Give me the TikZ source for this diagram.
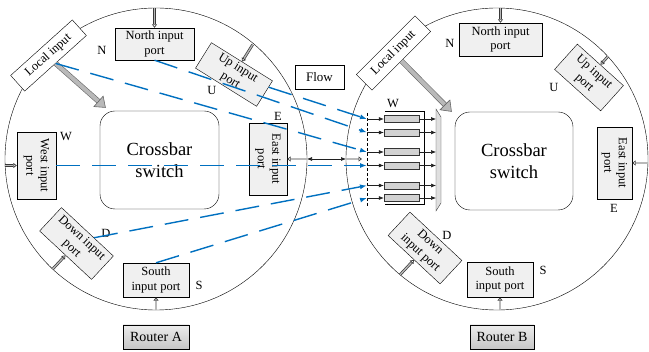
\documentclass[tikz,border=0pt]{standalone}
\usepackage{fontspec}
\setmainfont{Liberation Serif}
\usepackage{tikz}
\usetikzlibrary{arrows.meta,positioning,calc}
\pgfdeclarelayer{bg}
\pgfsetlayers{bg,main}
\definecolor{flowblue}{RGB}{0,112,192}
\tikzset{
  port/.style={draw, fill=gray!12, align=center, inner sep=1pt, font=\fontsize{12.5}{14.5}\selectfont},
  whitebox/.style={draw, fill=white, inner sep=1pt, font=\fontsize{12.5}{14.5}\selectfont},
  lbl/.style={inner sep=0pt, font=\fontsize{12.5}{14}\selectfont},
  xbar/.style={draw, rounded corners=15pt, minimum width=119pt, minimum height=98pt, align=center, font=\fontsize{18.5}{22}\selectfont},
  router/.style={draw, top color=gray!15, bottom color=gray!45, minimum width=66pt, minimum height=24pt, inner sep=0pt, font=\fontsize{14}{16}\selectfont},
  portin/.style={draw=gray!45!black, double=gray!55, double distance=1.3pt, line width=0.7pt, -{Triangle[open, length=3.5pt, width=5pt]}},
  feed/.style={draw=gray!80!black, double=gray!55, double distance=4pt, line width=0.6pt, -{Triangle[length=10pt, width=15pt, fill=gray!55]}},
  flowline/.style={flowblue, line width=1.4pt, dash pattern=on 24pt off 12pt, -{Latex[length=7pt, width=5pt]}},
  buf/.style={draw=gray!40!black, fill=gray!35, minimum width=35pt, minimum height=7pt, inner sep=0pt},
  link/.style={gray!25!black, line width=0.6pt, -{Latex[length=5pt, width=4pt]}},
}

\begin{document}
\begin{tikzpicture}[x=1pt, y=-1pt, line width=0.7pt]
    \useasboundingbox (0,0) rectangle (649,352);

    \begin{pgfonlayer}{bg}    % router outlines
        \node [draw, circle, minimum size=302pt, inner sep=0pt] (cA) at (156,159) {};
        \node [draw, circle, minimum size=302pt, inner sep=0pt] (cB) at (497,159) {};
    \end{pgfonlayer}

    % Router A
    \node [xbar] (xbarA) at (159.5,160) {Crossbar\\switch};
    \node [port, minimum width=79pt, minimum height=32pt] (northA) at (154.5,44) {North input\\port};
    \node [port, rotate=-90, minimum width=67pt, minimum height=39pt] (westA) at (36.5,165.5) {West input\\port};
    \node [port, rotate=-90, minimum width=72pt, minimum height=38pt] (eastA) at (268,159) {East input\\port};
    \node [port, rotate=-32, minimum width=72pt, minimum height=30pt] (upA) at (234,74.5) {Up input\\port};
    \node [port, rotate=-43, minimum width=71pt, minimum height=32pt] (downA) at (76.5,243.5) {Down input\\port};
    \node [port, minimum width=66pt, minimum height=34pt] (southA) at (156,280) {South\\input port};
    \node [whitebox, rotate=42, minimum width=83pt, minimum height=21pt] (locA) at (48.5,55.5) {Local input};
    \node [lbl] (nA) at (102,50) {N};
    \node [lbl] (uA) at (212,90) {U};
    \node [lbl] (eA) at (278,116) {E};
    \node [lbl] (wA) at (66,137) {W};
    \node [lbl] (dA) at (106,233) {D};
    \node [lbl] (sA) at (199,285) {S};
    \node [router] (rA) at (156,337) {Router A};

    % Router B
    \node [xbar, minimum width=118pt] (xbarB) at (514,161) {Crossbar\\switch};
    \node [port, minimum width=83pt, minimum height=33pt] (northB) at (500.5,39.5) {North input\\port};
    \node [port, rotate=-90, minimum width=72pt, minimum height=35pt] (eastB) at (614.5,163) {East input\\port};
    \node [port, rotate=-42, minimum width=62pt, minimum height=34pt] (upB) at (589,77.5) {Up input\\port};
    \node [port, rotate=-43, minimum width=71pt, minimum height=32pt] (downB) at (425,248) {Down\\input port};
    \node [port, minimum width=66pt, minimum height=35pt] (southB) at (500,279.5) {South\\input port};
    \node [whitebox, rotate=45, minimum width=83pt, minimum height=22pt] (locB) at (393.5,53) {Local input};
    \node [lbl] (nB) at (450,43) {N};
    \node [lbl] (uB) at (554,87) {U};
    \node [lbl] (wB) at (393,104) {W};
    \node [lbl] (eB) at (614,208) {E};
    \node [lbl] (dB) at (447,235) {D};
    \node [lbl] (sB) at (543,270) {S};
    \node [router, minimum width=64pt] (rB) at (502,337) {Router B};

    \node [whitebox, minimum width=49pt, minimum height=24pt, font=\fontsize{13}{15}\selectfont] (flowbox) at (319.5,77) {Flow};

    % west input buffers of router B
    \draw [fill=gray!25, draw=gray!50!black] (436,109) -- (441,117) -- (441,203) -- (436,211) -- cycle;
    \draw (385,111) -- (424,111) -- (424,204.5) -- (385,204.5);
    \draw [dash pattern=on 3pt off 2pt] (367,113) -- (367,206);
    \foreach \i/\y in {1/119,2/132.5,3/152,4/165.5,5/185.5,6/198} {
        \coordinate (in\i) at (367,\y);
        \node [buf] (buf\i) at (401.5,\y) {};
        \coordinate (mx\i) at (436,\y);
        \draw [link] (in\i) -- (buf\i);
        \draw [link] (buf\i) -- (mx\i);
    }

    % port inputs
    \draw [portin] (northA.north |- cA.north) -- (northA.north);
    \draw [portin] (westA.south -| cA.west) -- (westA.south);
    \draw [portin] (southA.south |- cA.south) -- (southA.south);
    \draw [portin] ($(upA.north)!-20pt!(upA.center)$) -- (upA.north);
    \draw [portin] ($(downA.south)!-19pt!(downA.center)$) -- (downA.south);
    \draw [portin] (northB.north |- cB.north) -- (northB.north);
    \draw [portin] (eastB.north -| cB.east) -- (eastB.north);
    \draw [portin] (southB.south |- cB.south) -- (southB.south);
    \draw [portin] ($(upB.north)!-11pt!(upB.center)$) -- (upB.north);
    \draw [portin] ($(downB.south)!-20.5pt!(downB.center)$) -- (downB.south);

    % local inputs
    \draw [feed] (locA.south) -- ($(xbarA.north west)+(6,-3)$);
    \draw [feed] (locB.south) -- ($(xbarB.north west)+(-3,0)$);

    % link between the routers
    \coordinate (edgeA) at (307,159);
    \coordinate (edgeB) at (346,159);
    \draw [portin] (edgeA) -- (eastA.north);
    \draw [link, {Latex[length=5pt, width=4pt]}-{Latex[length=5pt, width=4pt]}] (edgeA) -- (edgeB);
    \draw [portin, shorten >=5pt] (edgeB) -- (edgeB -| in1);

    % flows
    \draw [flowline] ($(upA.north east)!0.25!(upA.south east)$) -- (in1);
    \draw [flowline] (northA.south) -- (in2);
    \draw [flowline] (locA.south) -- (in3);
    \draw [flowline] (westA.north) -- (in4);
    \draw [flowline] ($(downA.north)!0.25!(downA.north east)$) -- (in5);
    \draw [flowline] (southA.north) -- (in6);
\end{tikzpicture}
\end{document}
